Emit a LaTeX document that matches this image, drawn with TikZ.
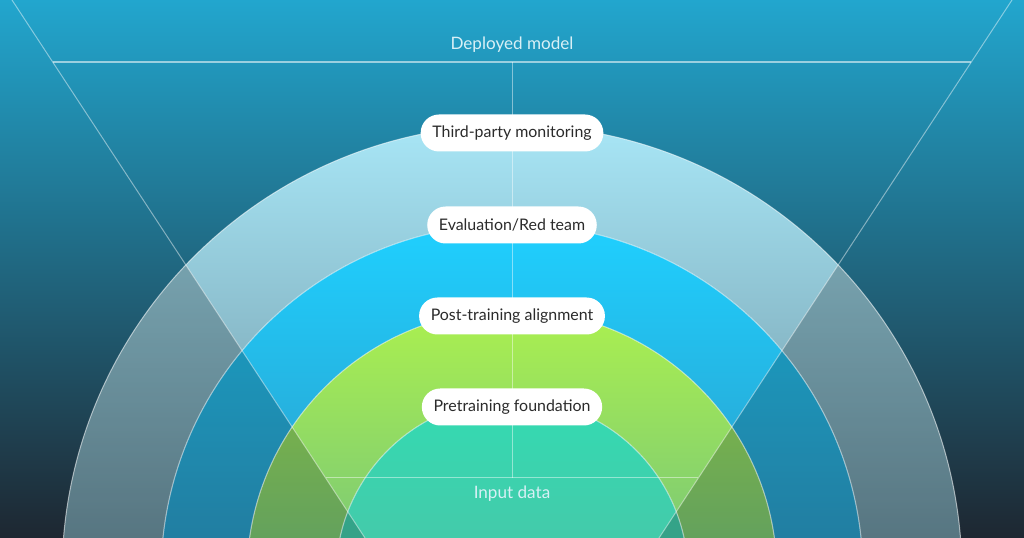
\documentclass[tikz,border=0pt]{standalone}
\usepackage{fontspec}
\setmainfont{Lato}
\usetikzlibrary{calc}
\definecolor{bgtop}{HTML}{22A6CE}
\definecolor{bgmid}{HTML}{1B6E88}
\definecolor{bgbot}{HTML}{1E2731}
\definecolor{ringAtop}{HTML}{A8E6F6}
\definecolor{ringAbot}{HTML}{688C9A}
\definecolor{ringBtop}{HTML}{1FD0FF}
\definecolor{ringBbot}{HTML}{2C98C4}
\definecolor{ringCtop}{HTML}{ABF04F}
\definecolor{ringCbot}{HTML}{76C47A}
\definecolor{ringDtop}{HTML}{33DBB2}
\definecolor{ringDbot}{HTML}{48C6A8}
\definecolor{pilltext}{HTML}{2B2B2B}
\definecolor{lighttext}{HTML}{D8F0F6}
\begin{document}
\begin{tikzpicture}[x=0.3mm,y=0.3mm,
  pill/.style={fill=white, rounded corners=5.5mm, minimum height=11.1mm, inner xsep=3.5mm,
    text=pilltext, font=\fontsize{13.6}{15}\selectfont},
  plain/.style={text=lighttext, font=\fontsize{14.6}{16}\selectfont},
  edge/.style={draw=white, draw opacity=0.55, line width=0.3mm},
  guide/.style={draw=white, draw opacity=0.45, line width=0.3mm},
  mainline/.style={draw=white, draw opacity=0.55, line width=0.45mm}]
\useasboundingbox (0,0) rectangle (1024,538);
\clip (0,0) rectangle (1024,538);
% background
\shade[top color=bgtop, middle color=bgmid, bottom color=bgbot] (0,0) rectangle (1024,538);
\coordinate (c) at (512,-37);
% rings (upper half annuli)
\shade[top color=ringAtop, bottom color=ringAbot]
  (962,-37) arc (0:180:450) -- (161,-37) arc (180:0:351) -- cycle;
\shade[top color=ringBtop, bottom color=ringBbot]
  (863,-37) arc (0:180:351) -- (247,-37) arc (180:0:265) -- cycle;
\shade[top color=ringCtop, bottom color=ringCbot]
  (777,-37) arc (0:180:265) -- (336,-37) arc (180:0:176) -- cycle;
\shade[top color=ringDtop, bottom color=ringDbot]
  (688,-37) arc (0:180:176) -- cycle;
% darkening outside the funnel
\begin{scope}
  \clip (c) circle (450);
  \fill[black, opacity=0.2] (0,0) -- (365,0) -- (12,538) -- (0,538) -- cycle;
  \fill[black, opacity=0.2] (1024,0) -- (659,0) -- (1012,538) -- (1024,538) -- cycle;
\end{scope}
% ring edges
\draw[edge] (c) circle (450);
\draw[edge] (c) circle (351);
\draw[edge] (c) circle (265);
\draw[edge] (c) circle (176);
% funnel guides
\coordinate (lt) at (12,538);
\coordinate (lb) at (365,0);
\coordinate (rt) at (1012,538);
\coordinate (rb) at (659,0);
\coordinate (hl) at (52.7,476);
\coordinate (hr) at (971.3,476);
\coordinate (vt) at (512,476);
\coordinate (vb) at (512,60);
\coordinate (bl) at (325.6,60);
\coordinate (br) at (698.4,60);
\draw[guide] (lt) -- (lb);
\draw[guide] (rt) -- (rb);
\draw[mainline] (hl) -- (hr);
\draw[guide] (vt) -- (vb);
\draw[guide] (bl) -- (br);
% labels
\node[plain] (deployed) at (512,493) {Deployed model};
\node[plain] (input) at (512,44) {Input data};
\node[pill] (monitor) at (512,405) {Third-party monitoring};
\node[pill] (eval) at (512,313) {Evaluation/Red team};
\node[pill] (post) at (512,222) {Post-training alignment};
\node[pill] (pre) at (512,131) {Pretraining foundation};
\end{tikzpicture}
\end{document}
